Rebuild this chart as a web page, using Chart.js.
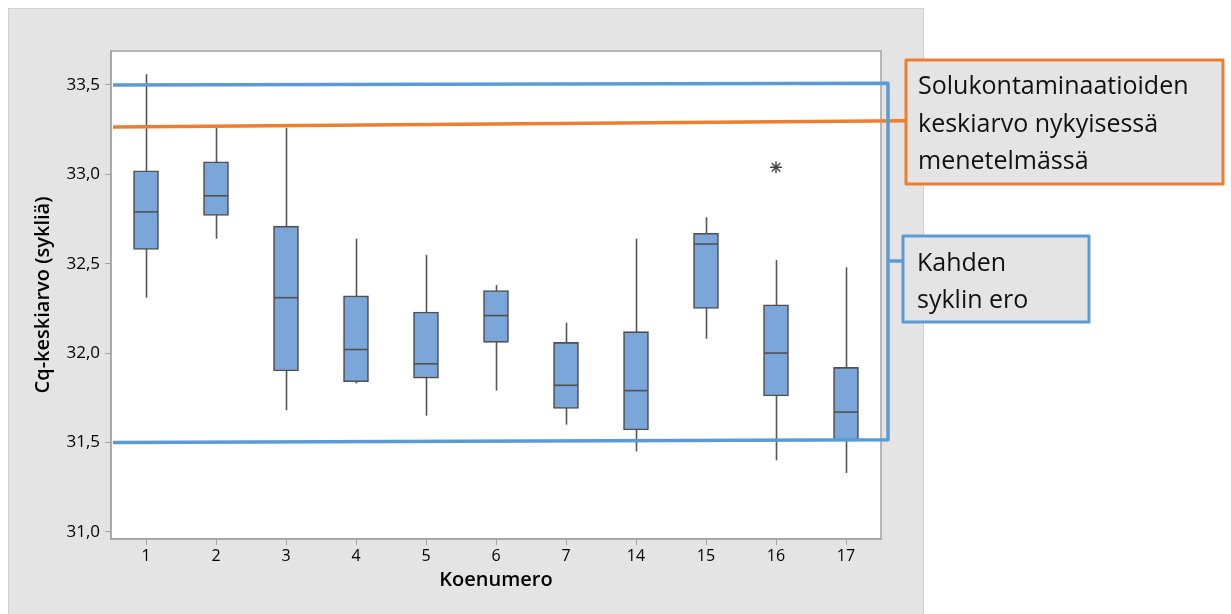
<!DOCTYPE html>
<html>
<head>
<meta charset="utf-8">
<script src="https://cdn.jsdelivr.net/npm/chart.js@4.4.1/dist/chart.umd.min.js"></script>
<style>
  body { margin: 0; background: #fff; }
  canvas { display: block; }
</style>
</head>
<body>
<canvas id="boxChart" width="1231" height="614"></canvas>
<script>
// koenumerot (x-akseli)
var experiments = ['1', '2', '3', '4', '5', '6', '7', '14', '15', '16', '17'];

// laatikkokuvion arvot (Cq-keskiarvo, sykliä)
var whiskerHigh = [33.56, 33.26, 33.26, 32.64, 32.55, 32.38, 32.17, 32.64, 32.76, 32.52, 32.48];
var q3          = [33.02, 33.07, 32.71, 32.32, 32.23, 32.35, 32.06, 32.12, 32.67, 32.27, 31.92];
var medians     = [32.79, 32.88, 32.31, 32.02, 31.94, 32.21, 31.82, 31.79, 32.61, 32.00, 31.67];
var q1          = [32.58, 32.77, 31.90, 31.84, 31.86, 32.06, 31.69, 31.57, 32.25, 31.76, 31.51];
var whiskerLow  = [32.31, 32.64, 31.68, 31.83, 31.65, 31.79, 31.60, 31.45, 32.08, 31.40, 31.33];

// poikkeava havainto
var outlierExp = ['16'];
var outlierVal = [33.04];

// y-akselin jaot
var yTicks = [31.0, 31.5, 32.0, 32.5, 33.0, 33.5];

// viivat (alku- ja loppuarvo, piirretty hieman vinoon kuten alkuperäisessä)
var twoCycleTop    = [33.50, 33.51];
var twoCycleBottom = [31.50, 31.515];
var contamMean     = [33.265, 33.30];

var orangeLabel = ['Solukontaminaatioiden', 'keskiarvo nykyisessä', 'menetelmässä'];
var blueLabel = ['Kahden', 'syklin ero'];

var BLUE = '#5b9bd5';
var ORANGE = '#ed7d31';
var PANEL = '#e4e4e4';
var AXIS = '#a3a3a3';
var BOX_EDGE = '#505050';

var boxPlugin = {
  id: 'boxPlugin',
  beforeDraw: function(chart) {
    var ctx = chart.ctx;
    var a = chart.chartArea;
    ctx.save();
    ctx.fillStyle = '#ffffff';
    ctx.fillRect(0, 0, chart.width, chart.height);
    ctx.fillStyle = PANEL;
    ctx.fillRect(8, 8, 915, 606);
    ctx.strokeStyle = '#cfcfcf';
    ctx.lineWidth = 1;
    ctx.strokeRect(8.5, 8.5, 915, 610);
    ctx.fillStyle = '#ffffff';
    ctx.fillRect(a.left, a.top, a.right - a.left, a.bottom - a.top);
    ctx.restore();
  },
  beforeDatasetsDraw: function(chart) {
    var ctx = chart.ctx;
    var x = chart.scales.x, y = chart.scales.y;
    ctx.save();
    ctx.strokeStyle = '#555555';
    ctx.lineWidth = 1.6;
    experiments.forEach(function(e, i) {
      var px = Math.round(x.getPixelForValue(i)) + 0.5;
      ctx.beginPath();
      ctx.moveTo(px, y.getPixelForValue(whiskerLow[i]));
      ctx.lineTo(px, y.getPixelForValue(whiskerHigh[i]));
      ctx.stroke();
    });
    ctx.restore();
  },
  afterDatasetsDraw: function(chart) {
    var ctx = chart.ctx;
    var x = chart.scales.x, y = chart.scales.y;
    var a = chart.chartArea;
    ctx.save();
    // mediaanit
    ctx.strokeStyle = BOX_EDGE;
    ctx.lineWidth = 1.6;
    experiments.forEach(function(e, i) {
      var px = x.getPixelForValue(i);
      var py = y.getPixelForValue(medians[i]);
      ctx.beginPath();
      ctx.moveTo(px - 12, py);
      ctx.lineTo(px + 12, py);
      ctx.stroke();
    });
    // kuvaalan kehys
    ctx.strokeStyle = AXIS;
    ctx.lineWidth = 1.5;
    ctx.strokeRect(a.left, a.top, a.right - a.left, a.bottom - a.top);

    // oranssi viiva
    var bracketX = 888;
    ctx.lineCap = 'butt';
    ctx.lineWidth = 3.5;
    ctx.strokeStyle = ORANGE;
    ctx.beginPath();
    ctx.moveTo(a.left + 2, y.getPixelForValue(contamMean[0]));
    ctx.lineTo(905, y.getPixelForValue(contamMean[1]));
    ctx.stroke();

    // sininen haarukka
    var yTop1 = y.getPixelForValue(twoCycleTop[0]);
    var yTop2 = y.getPixelForValue(twoCycleTop[1]);
    var yBot1 = y.getPixelForValue(twoCycleBottom[0]);
    var yBot2 = y.getPixelForValue(twoCycleBottom[1]);
    ctx.strokeStyle = BLUE;
    ctx.lineJoin = 'round';
    ctx.beginPath();
    ctx.moveTo(a.left + 2, yTop1);
    ctx.lineTo(bracketX, yTop2);
    ctx.lineTo(bracketX, yBot2);
    ctx.lineTo(a.left + 2, yBot1);
    ctx.stroke();
    ctx.beginPath();
    ctx.moveTo(bracketX, 261);
    ctx.lineTo(903, 261);
    ctx.stroke();

    // selitelaatikot
    ctx.lineWidth = 3;
    ctx.fillStyle = PANEL;
    ctx.strokeStyle = ORANGE;
    ctx.fillRect(906, 60, 317, 124);
    ctx.strokeRect(906, 60, 317, 124);
    ctx.strokeStyle = BLUE;
    ctx.fillRect(903, 236, 186, 86);
    ctx.strokeRect(903, 236, 186, 86);

    ctx.fillStyle = '#111111';
    ctx.font = '25px "Open Sans"';
    ctx.textBaseline = 'alphabetic';
    ctx.textAlign = 'left';
    orangeLabel.forEach(function(t, i) {
      ctx.fillText(t, 918, 94 + i * 37.5);
    });
    blueLabel.forEach(function(t, i) {
      ctx.fillText(t, 917, 271 + i * 37);
    });
    ctx.restore();
  }
};

var ctx = document.getElementById('boxChart');
var boxChart = new Chart(ctx, {
  type: 'bar',
  data: {
    labels: experiments,
    datasets: [{
      label: 'Laatikko',
      data: experiments.map(function(e, i) { return [q1[i], q3[i]]; }),
      backgroundColor: '#7ba6d9',
      borderColor: BOX_EDGE,
      borderWidth: 1.6,
      borderSkipped: false,
      barThickness: 25,
      grouped: false,
      order: 2
    }, {
      type: 'line',
      label: 'Poikkeava',
      data: outlierExp.map(function(e, i) { return {x: e, y: outlierVal[i]}; }),
      showLine: false,
      pointStyle: 'star',
      pointRadius: 6,
      borderColor: '#444444',
      borderWidth: 1.4,
      backgroundColor: '#444444',
      order: 1
    }]
  },
  options: {
    responsive: false,
    animation: false,
    devicePixelRatio: 1,
    layout: { padding: { top: 51, right: 350, left: 0, bottom: 0 } },
    plugins: {
      legend: { display: false },
      tooltip: { enabled: false }
    },
    scales: {
      x: {
        offset: true,
        grid: { drawOnChartArea: false, drawTicks: true, tickLength: 6, color: AXIS, offset: false },
        border: { display: true, color: AXIS, width: 1.5 },
        ticks: { color: '#000000', font: { family: 'Open Sans', size: 16 }, padding: 2, maxRotation: 0 },
        title: {
          display: true,
          text: 'Koenumero',
          color: '#000000',
          font: { family: 'Open Sans', size: 20, weight: '600' },
          padding: { top: 0, bottom: 22 }
        },
        afterFit: function(scale) { scale.height = 75; }
      },
      y: {
        min: 30.96,
        max: 33.69,
        grid: { drawOnChartArea: false, drawTicks: true, tickLength: 6, color: AXIS },
        border: { display: true, color: AXIS, width: 1.5 },
        afterBuildTicks: function(scale) {
          scale.ticks = yTicks.map(function(v) { return {value: v}; });
        },
        ticks: {
          color: '#000000',
          font: { family: 'Open Sans', size: 17 },
          padding: 5,
          callback: function(v) { return Number(v).toFixed(1).replace('.', ','); }
        },
        title: {
          display: true,
          text: 'Cq-keskiarvo (sykliä)',
          color: '#000000',
          font: { family: 'Open Sans', size: 20, weight: '600' },
          padding: { top: 31, bottom: 0 }
        },
        afterFit: function(scale) { scale.width = 111; }
      }
    }
  },
  plugins: [boxPlugin]
});
</script>
</body>
</html>
